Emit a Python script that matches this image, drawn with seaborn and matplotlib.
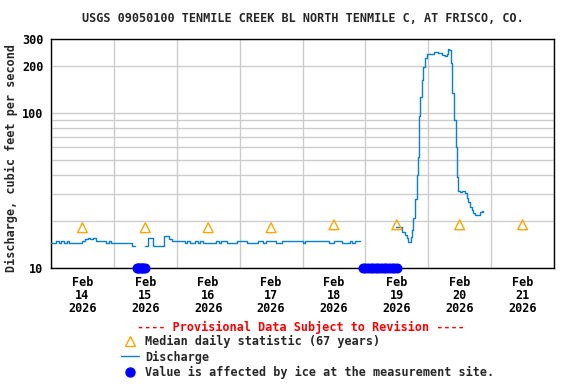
import numpy as np
import pandas as pd
import matplotlib
matplotlib.use("Agg")
import matplotlib.pyplot as plt
import matplotlib.dates as mdates
from matplotlib.lines import Line2D
from matplotlib.ticker import FixedLocator, FixedFormatter, NullFormatter
import seaborn as sns

START = pd.Timestamp("2026-02-14 00:00")

# discharge (cfs), hourly readings, first piece starts Feb 14 00:00
seg1_start_hour = 0
seg1_cfs = [14.5, 14.5, 14.9, 14.5, 14.9, 14.5, 14.9, 14.5, 14.5, 14.5,
            14.5, 14.5, 14.9, 15.3, 15.7, 15.3, 15.7, 14.9, 14.9, 14.9,
            14.9, 14.5, 14.9, 14.5, 14.5, 14.5, 14.5, 14.5, 14.5, 14.5,
            14.5, 13.9, 13.9]

# second piece after the ice gap on Feb 15
seg2_start_hour = 36
seg2_cfs = [13.9, 15.6, 15.6, 13.9, 13.9, 13.9, 13.9, 16.2, 16.2, 15.4,
            15.0, 15.0, 15.0, 15.0, 15.0, 14.6, 15.0, 14.6, 14.6, 15.0,
            14.6, 15.0, 14.6, 14.6, 14.6, 14.6, 14.6, 15.0, 14.6, 15.0,
            15.0, 14.6, 14.6, 14.6, 14.6, 15.0, 15.0, 15.0, 15.0, 14.6,
            14.6, 14.6, 14.6, 15.0, 15.0, 14.6, 15.0, 15.0, 15.0, 15.0,
            14.6, 14.6, 15.0, 15.0, 15.0, 15.0, 15.0, 15.0, 15.0, 15.0,
            14.6, 15.0, 15.0, 15.0, 15.0, 15.0, 15.0, 15.0, 15.0, 15.0,
            14.6, 14.6, 15.0, 15.0, 15.0, 14.6, 14.6, 14.6, 15.0, 14.6,
            15.0, 15.0, 15.0]

# third piece (Feb 19-20 melt pulse), hours since Feb 14 00:00
seg3_hours = [131.7, 133.9, 135.1, 135.8, 136.4, 137.0, 137.4, 137.9, 138.3,
              138.9, 139.6, 140.0, 140.5, 140.8, 141.5, 142.1, 142.7, 143.4,
              145.5, 146.3, 147.8, 149.1, 150.4, 151.0, 151.6, 152.0, 152.6,
              153.2, 153.8, 154.5, 155.1, 155.5, 156.1, 156.8, 157.6, 158.0,
              158.7, 159.3, 159.9, 160.6, 161.2, 161.8, 163.1, 163.7, 164.4,
              165.0]
seg3_cfs = [18.5, 17.0, 16.3, 15.5, 14.8, 14.8, 15.9, 17.6, 21.0,
            28.0, 40.0, 52.0, 95.0, 127.0, 163.0, 198.0, 225.0, 240.0,
            240.0, 248.0, 245.0, 237.0, 232.0, 240.0, 258.0, 255.0, 209.0,
            134.0, 90.0, 60.6, 38.8, 31.3, 30.8, 31.5, 31.5, 30.3,
            28.1, 26.8, 24.9, 23.7, 22.5, 22.0, 22.0, 23.1, 23.4,
            23.1]

# median daily statistic (67 years)
median_days = ["2026-02-14 12:00", "2026-02-15 12:00", "2026-02-16 12:00",
               "2026-02-17 12:00", "2026-02-18 12:00", "2026-02-19 12:00",
               "2026-02-20 12:00", "2026-02-21 12:00"]
median_cfs = [18.2, 18.2, 18.2, 18.2, 19.0, 19.0, 19.0, 19.0]

# ice affected readings, hours since Feb 14 00:00
ice_hours = [32.75, 33.25, 33.75, 34.25, 34.75, 35.25, 35.75,
             119, 120, 121, 122, 123, 124, 125, 126, 127, 128, 129, 130, 131, 132]

TITLE = "USGS 09050100 TENMILE CREEK BL NORTH TENMILE C, AT FRISCO, CO."
LINE_COL = "#0a7fd0"
MED_COL = "#ffa500"
ICE_COL = "#0000ff"
GRID_COL = "#cccccc"


def piece(hours, cfs, name):
    return pd.DataFrame({"time": START + pd.to_timedelta(np.asarray(hours, float), unit="h"),
                         "cfs": cfs, "seg": name})


flow = pd.concat([
    piece(np.arange(len(seg1_cfs)) + seg1_start_hour, seg1_cfs, "a"),
    piece(np.arange(len(seg2_cfs)) + seg2_start_hour, seg2_cfs, "b"),
    piece(seg3_hours, seg3_cfs, "c"),
], ignore_index=True)
medians = pd.DataFrame({"time": pd.to_datetime(median_days), "cfs": median_cfs})
ice = pd.DataFrame({"time": START + pd.to_timedelta(ice_hours, unit="h"),
                    "cfs": [10.0] * len(ice_hours)})

sns.set_theme(style="white")
plt.rcParams["font.family"] = ["DejaVu Sans Mono"]
plt.rcParams["font.weight"] = "bold"
FS = 8.5

fig = plt.figure(figsize=(5.76, 3.84), dpi=100)
ax = fig.add_axes([51 / 576, 1 - 268 / 384, 503 / 576, 229 / 384])

sns.lineplot(data=flow, x="time", y="cfs", units="seg", estimator=None,
             color=LINE_COL, lw=1.0, drawstyle="steps-post", ax=ax, zorder=3)
sns.scatterplot(data=medians, x="time", y="cfs", marker="^", s=50,
                facecolor="none", edgecolor=MED_COL, linewidth=1.0, ax=ax, zorder=4)
sns.scatterplot(data=ice, x="time", y="cfs", marker="o", s=52, color=ICE_COL,
                linewidth=0, clip_on=False, ax=ax, zorder=5)

ax.set_yscale("log")
ax.set_ylim(10, 300)
ax.set_xlim(START, START + pd.Timedelta(days=8))

ax.yaxis.set_major_locator(FixedLocator([10, 100, 200, 300]))
ax.yaxis.set_major_formatter(FixedFormatter(["10", "100", "200", "300"]))
ax.yaxis.set_minor_locator(FixedLocator(list(range(20, 100, 10))))
ax.yaxis.set_minor_formatter(NullFormatter())

ax.xaxis.set_major_locator(mdates.DayLocator())
ax.xaxis.set_major_formatter(NullFormatter())
ax.xaxis.set_minor_locator(mdates.HourLocator(byhour=12))
ax.xaxis.set_minor_formatter(mdates.DateFormatter("%b\n%d\n%Y"))

ax.grid(True, which="both", axis="y", color=GRID_COL, lw=1)
ax.grid(True, which="major", axis="x", color=GRID_COL, lw=1)
ax.grid(False, which="minor", axis="x")
ax.tick_params(which="both", length=0, labelsize=FS, colors="black")
ax.tick_params(axis="y", pad=5.5)
ax.tick_params(axis="x", which="minor", pad=5.5)
for lbl in ax.get_xticklabels(minor=True):
    lbl.set_linespacing(1.0)
    lbl.set_fontweight("bold")
for lbl in ax.get_yticklabels():
    lbl.set_fontweight("bold")

for sp in ax.spines.values():
    sp.set_color("black")
    sp.set_linewidth(1.0)
ax.set_xlabel("")
ax.set_ylabel("")

fig.text(302.5 / 576, 1 - 19 / 384, TITLE, ha="center", va="center",
         fontsize=FS, fontweight="bold")
fig.text(11 / 576, 1 - 158 / 384, "Discharge, cubic feet per second", rotation=90,
         ha="center", va="center", fontsize=FS, fontweight="bold")
fig.text(301 / 576, 1 - 327 / 384, "---- Provisional Data Subject to Revision ----",
         ha="center", va="center", fontsize=FS, fontweight="bold", color="red")

handles = [
    Line2D([], [], ls="none", marker="^", ms=7, mfc="none", mec=MED_COL, mew=1.0),
    Line2D([], [], color=LINE_COL, lw=1.0),
    Line2D([], [], ls="none", marker="o", ms=6.5, mfc=ICE_COL, mec=ICE_COL),
]
labels = ["Median daily statistic (67 years)", "Discharge",
          "Value is affected by ice at the measurement site."]
fig.legend(handles, labels, loc="upper left", bbox_to_anchor=(121 / 576, 1 - 335 / 384),
           frameon=False, prop={"family": "DejaVu Sans Mono", "weight": "bold", "size": FS},
           handlelength=1.5, handletextpad=0.55, labelspacing=0.2,
           borderpad=0, borderaxespad=0)

fig.savefig("out.png", dpi=100, facecolor="white")
